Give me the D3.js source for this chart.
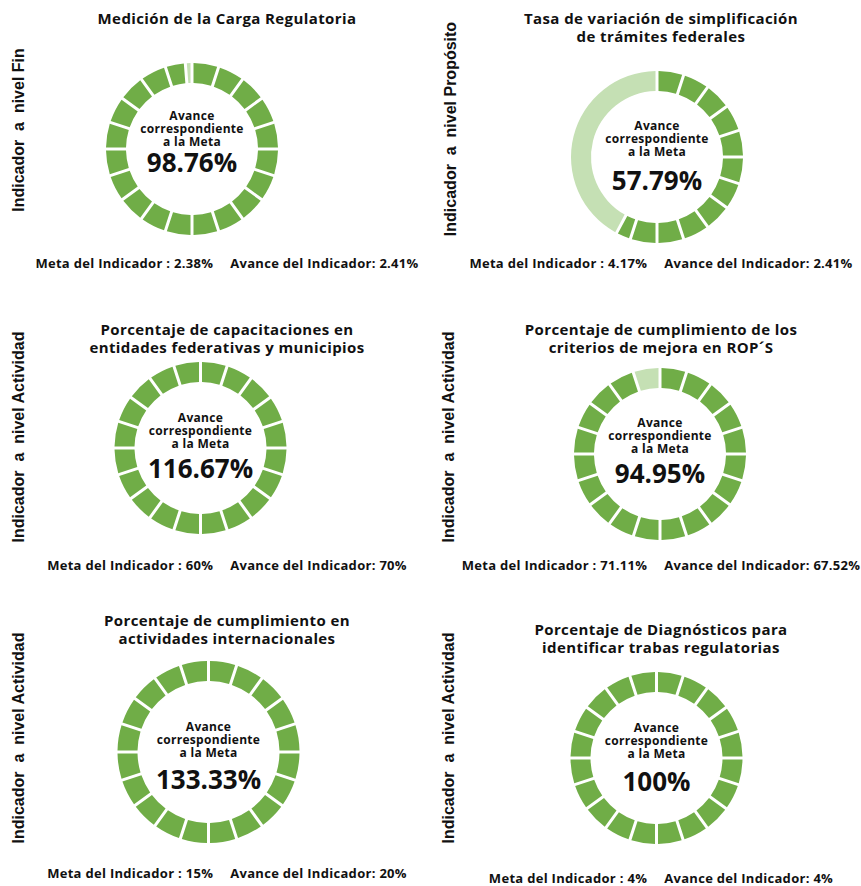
<!DOCTYPE html>
<html>
<head>
<meta charset="utf-8">
<script src="https://cdn.jsdelivr.net/npm/d3@7"></script>
<style>
  html, body { margin: 0; padding: 0; background: #ffffff; }
  svg { display: block; font-family: "Open Sans", "DejaVu Sans", sans-serif; }
</style>
</head>
<body>
<svg id="chart" width="861" height="886"></svg>
<script>
// ---- data ----
const panelTitles = [
  ["Medición de la Carga Regulatoria"],
  ["Tasa de variación de simplificación", "de trámites federales"],
  ["Porcentaje de capacitaciones en", "entidades federativas y municipios"],
  ["Porcentaje de cumplimiento de los", "criterios de mejora en ROP´S"],
  ["Porcentaje de cumplimiento en", "actividades internacionales"],
  ["Porcentaje de Diagnósticos para", "identificar trabas regulatorias"]
];
const levelLabels = [
  "Indicador  a  nivel Fin",
  "Indicador  a  nivel Propósito",
  "Indicador  a  nivel Actividad",
  "Indicador  a  nivel Actividad",
  "Indicador  a  nivel Actividad",
  "Indicador  a  nivel Actividad"
];
const avanceMeta = [98.76, 57.79, 116.67, 94.95, 133.33, 100];
const avanceMetaLabels = ["98.76%", "57.79%", "116.67%", "94.95%", "133.33%", "100%"];
const metaIndicador = ["2.38%", "4.17%", "60%", "71.11%", "15%", "4%"];
const avanceIndicador = ["2.41%", "2.41%", "70%", "67.52%", "20%", "4%"];
const centerLines = ["Avance", "correspondiente", "a la Meta"];
const segmentCount = 20;

// ---- layout (positions only) ----
const layout = [
  {cx: 192,   cy: 149, r: 86, tx: 227, titleY: 24,  numDy: 23, textDy: -3,  bottomY: 268, lx: 24,  ly: 130},
  {cx: 657,   cy: 157, r: 86, tx: 661, titleY: 24,  numDy: 33, textDy: -1.5, bottomY: 268, lx: 456, ly: 129},
  {cx: 200.5, cy: 448, r: 86, tx: 227, titleY: 335, numDy: 30, textDy: 0,   bottomY: 570, lx: 24,  ly: 437},
  {cx: 660,   cy: 454, r: 86, tx: 661, titleY: 335, numDy: 29, textDy: -1,  bottomY: 570, lx: 454, ly: 437},
  {cx: 208.5, cy: 752, r: 91, tx: 227, titleY: 626, numDy: 37, textDy: 5,   bottomY: 878, lx: 24,  ly: 738},
  {cx: 656.5, cy: 758, r: 86, tx: 661, titleY: 635, numDy: 33, textDy: 0,   bottomY: 883, lx: 454, ly: 738}
];

const darkGreen = "#70ad47";
const lightGreen = "#c5e0b4";
const ink = "#111111";

const svg = d3.select("#chart");
const pct = d3.scaleLinear().domain([0, 100]).range([0, 2 * Math.PI]);

avanceMeta.forEach((v, i) => {
  const L = layout[i];
  const g = svg.append("g");

  // title
  const t = g.append("text")
    .attr("x", L.tx).attr("y", L.titleY)
    .attr("text-anchor", "middle")
    .attr("font-size", 15).attr("font-weight", 700).attr("fill", ink)
    .attr("letter-spacing", 0.4);
  panelTitles[i].forEach((line, k) => {
    t.append("tspan").attr("x", L.tx).attr("dy", k === 0 ? 0 : 17.5).text(line);
  });

  // vertical level label
  g.append("text")
    .attr("transform", `translate(${L.lx},${L.ly}) rotate(-90)`)
    .attr("text-anchor", "middle")
    .attr("font-family", "'Liberation Sans', Arial, sans-serif")
    .attr("font-size", 16).attr("font-weight", 700).attr("fill", ink)
    .style("white-space", "pre")
    .text(levelLabels[i]);

  // donut
  const arc = d3.arc()
    .innerRadius(L.r - 20).outerRadius(L.r)
    .padAngle(0.03).padRadius(100);

  const step = 100 / segmentCount;
  const filled = Math.min(v, 100);
  const segs = d3.range(segmentCount)
    .map(k => ({s: k * step, e: Math.min((k + 1) * step, filled)}))
    .filter(d => d.e > d.s);

  const dg = g.append("g").attr("transform", `translate(${L.cx},${L.cy})`);
  dg.selectAll("path.seg").data(segs).join("path")
    .attr("class", "seg")
    .attr("fill", darkGreen)
    .attr("d", d => arc({startAngle: pct(d.s), endAngle: pct(d.e)}));

  if (filled < 100) {
    dg.append("path")
      .attr("fill", lightGreen)
      .attr("d", arc({startAngle: pct(filled), endAngle: pct(100)}));
  }

  // center text
  const ys = [-26, -13, 0];
  centerLines.forEach((line, k) => {
    dg.append("text")
      .attr("x", 0).attr("y", ys[k] + L.textDy)
      .attr("text-anchor", "middle")
      .attr("font-size", 12).attr("font-weight", 700).attr("fill", ink)
      .attr("letter-spacing", 0.3)
      .text(line);
  });
  dg.append("text")
    .attr("x", 0).attr("y", L.numDy)
    .attr("text-anchor", "middle")
    .attr("font-size", 26).attr("font-weight", 700).attr("fill", ink)
    .text(avanceMetaLabels[i]);

  // bottom line
  const b = g.append("text")
    .attr("x", L.tx).attr("y", L.bottomY)
    .attr("text-anchor", "middle")
    .attr("font-size", 13).attr("font-weight", 700).attr("fill", ink)
    .attr("letter-spacing", 0.3)
    .style("white-space", "pre");
  b.append("tspan").text("Meta del Indicador : " + metaIndicador[i]);
  b.append("tspan").attr("dx", 17).text("Avance del Indicador: " + avanceIndicador[i]);
});
</script>
</body>
</html>
